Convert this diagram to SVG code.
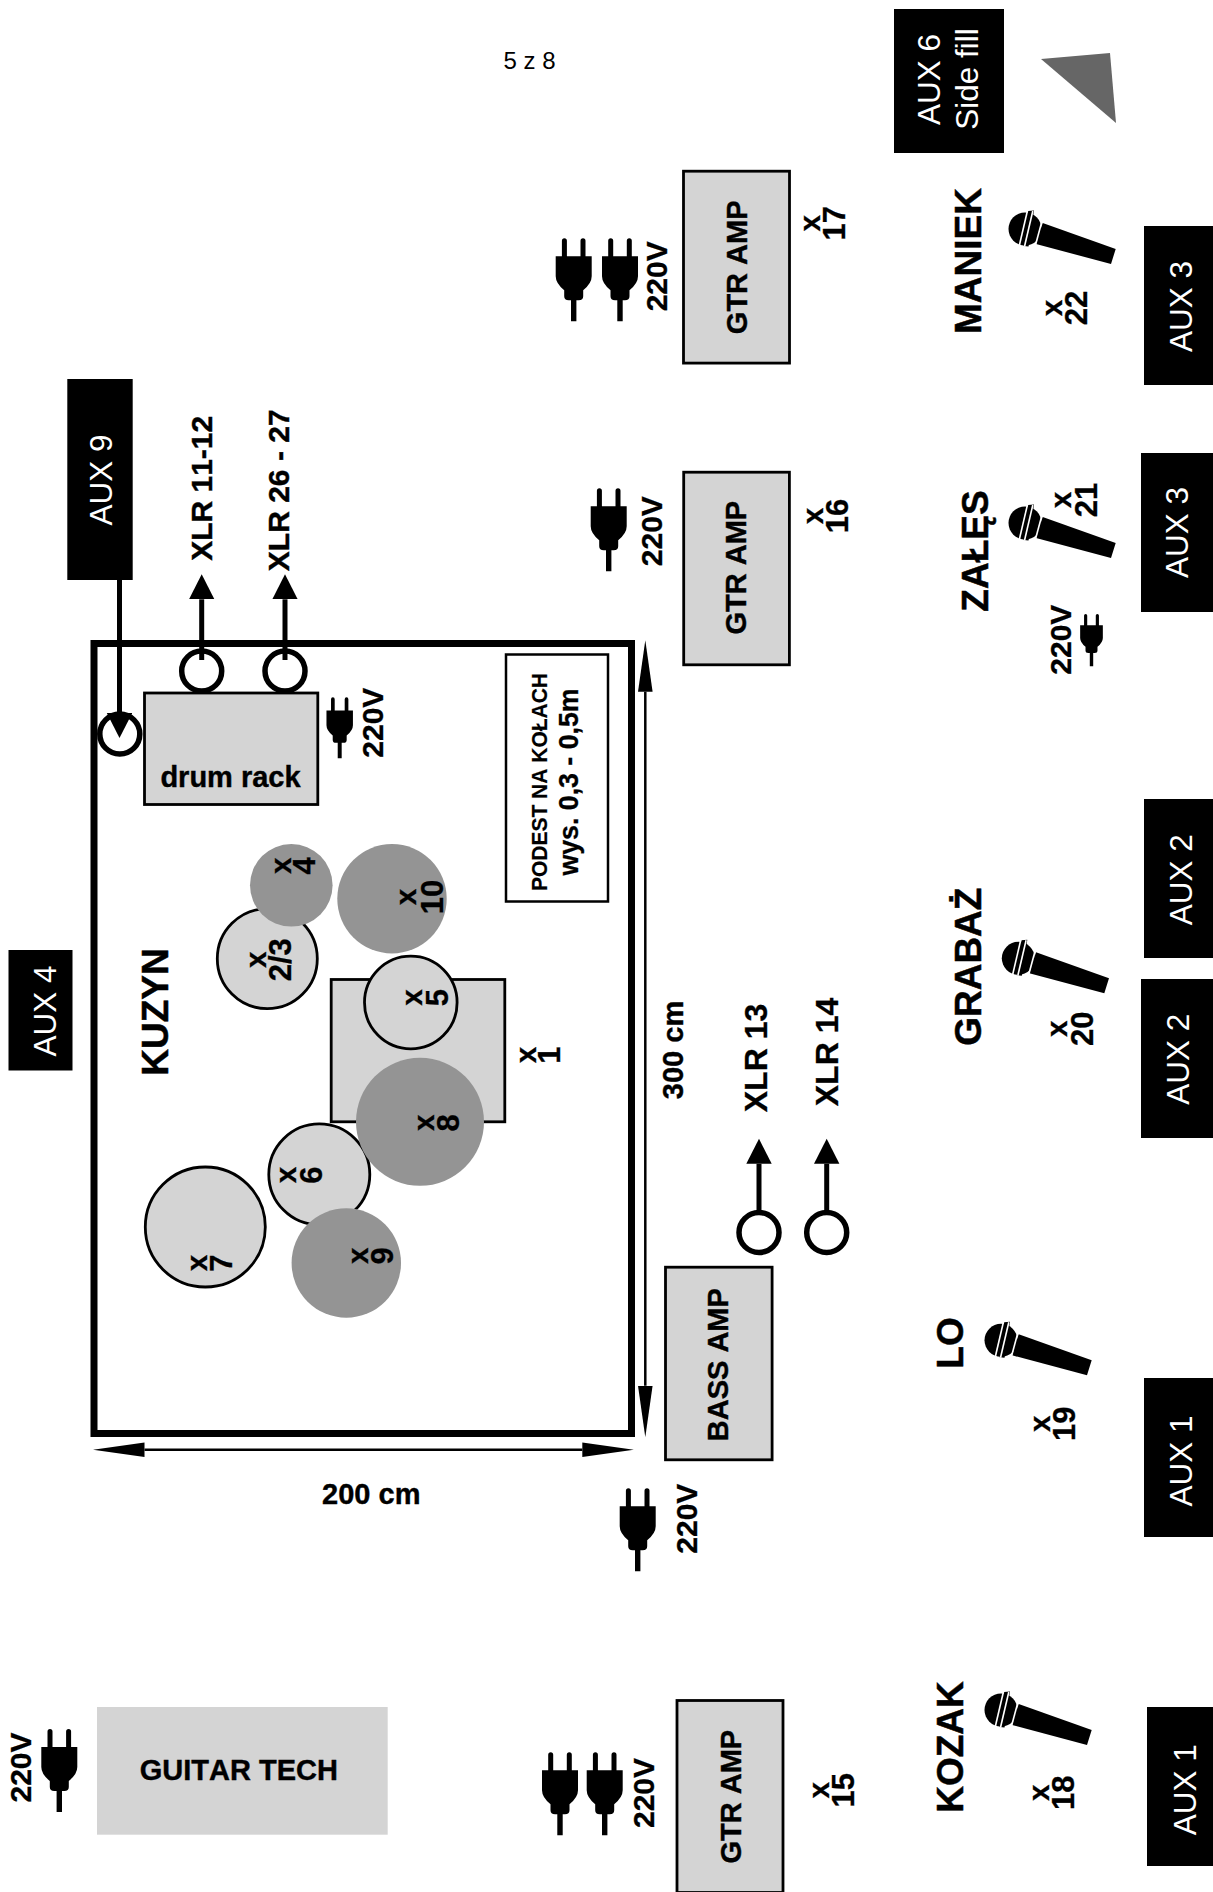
<svg xmlns="http://www.w3.org/2000/svg" xmlns:xlink="http://www.w3.org/1999/xlink" width="1213" height="1892" viewBox="0 0 1213 1892">
<style>
text{font-family:"Liberation Sans",Arial,sans-serif;text-anchor:middle;font-kerning:none}
.b{font-weight:700;fill:#000;font-size:29px;stroke:#000;stroke-width:.4}
.n{font-weight:700;fill:#000;font-size:37px;stroke:#000;stroke-width:.5}
.t{font-weight:700;fill:#000;font-size:31px;stroke:#000;stroke-width:.3}
.u{font-weight:700;fill:#000;font-size:29.5px;stroke:#000;stroke-width:.3}
.p{font-weight:700;fill:#000;font-size:30px;stroke:#000;stroke-width:.3}
.a{fill:#fff;font-size:31.5px}
.x{font-weight:700;fill:#000;font-size:32px;stroke:#000;stroke-width:.3}
.k{fill:#000}
.g{fill:#d4d4d4;stroke:#000;stroke-width:2.8}
.h{fill:#949494}
.c{fill:#fff;stroke:#000;stroke-width:5.5}
.l{stroke:#000;stroke-width:5;fill:none}
.d{stroke:#000;stroke-width:2.5;fill:none}
</style>
<defs>
<marker id="ah" markerUnits="userSpaceOnUse" markerWidth="26" markerHeight="26" refX="0" refY="12.7" orient="auto"><path d="M0,0L25,12.7L0,25.4Z" fill="#000"/></marker>
<marker id="dh" markerUnits="userSpaceOnUse" markerWidth="52" markerHeight="16" refX="0" refY="7.5" orient="auto-start-reverse"><path d="M0,0.2L51.5,7.5L0,14.8Z" fill="#000"/></marker>
<g id="plug"><path d="M-11.8,18V2.5a2.5,2.5 0 0 1 5,0V18H6.8V2.5a2.5,2.5 0 0 1 5,0V18H18V38Q18,45 9.5,52V58Q9.5,62 5,62H2.7V83H-2.7V62H-5Q-9.5,62 -9.5,58V52Q-18,45 -18,38V18Z" fill="#000"/></g>
<g id="mic">
<circle r="16.5" fill="#000"/>
<path d="M17.7,-6L90.7,20L86,35L11,15Z" fill="#000"/>
<path d="M9,-18.5L3.5,17.5L-1.5,17L3,-18Z" fill="#000"/>
<path d="M2.5,-18.5L-5.8,17" stroke="#fff" stroke-width="1.6" fill="none"/>
<path d="M7.8,-18L-.5,17.5" stroke="#fff" stroke-width="1.6" fill="none"/>
<path d="M17,-8L10.5,16" stroke="#fff" stroke-width="1.6" fill="none"/>
</g>
</defs>
<rect width="1213" height="1892" fill="#fff"/>

<g id="page-label"><text x="529.5" y="69.3" font-size="24">5 z 8</text></g>

<g id="stage"><rect x="94" y="643.5" width="537.5" height="790" fill="none" stroke="#000" stroke-width="7"/></g>

<g id="connectors">
<circle class="c" cx="201.7" cy="671" r="20"/>
<circle class="c" cx="285" cy="671" r="20"/>
<circle class="c" cx="119.8" cy="734" r="20"/>
<circle class="c" cx="759" cy="1232.5" r="20"/>
<circle class="c" cx="826.7" cy="1232.5" r="20"/>
<line class="l" x1="119.5" y1="580" x2="119.5" y2="713" marker-end="url(#ah)"/>
<line class="l" x1="201.7" y1="660" x2="201.7" y2="599.3" marker-end="url(#ah)"/>
<line class="l" x1="285" y1="660" x2="285" y2="599.3" marker-end="url(#ah)"/>
<line class="l" x1="759" y1="1212" x2="759" y2="1163.8" marker-end="url(#ah)"/>
<line class="l" x1="826.7" y1="1212" x2="826.7" y2="1163.8" marker-end="url(#ah)"/>
<line class="d" x1="645.3" y1="691.7" x2="645.3" y2="1385.7" marker-start="url(#dh)" marker-end="url(#dh)"/>
<line class="d" x1="144.5" y1="1449.7" x2="582.3" y2="1449.7" marker-start="url(#dh)" marker-end="url(#dh)"/>
</g>

<g id="drum-rack"><rect class="g" x="144.5" y="693" width="173.3" height="111.5"/><text class="b" x="230.5" y="786.7">drum rack</text></g>
<g id="riser"><rect class="d" x="506" y="654.5" width="102" height="247" fill="#fff"/>
<text class="b" style="font-size:22px;stroke-width:.2" textLength="218" lengthAdjust="spacingAndGlyphs" transform="translate(547.3,782) rotate(-90)">PODEST NA KOŁACH</text>
<text class="b" style="font-size:27px;stroke-width:.3" textLength="187" lengthAdjust="spacingAndGlyphs" transform="translate(578,782) rotate(-90)">wys. 0,3 - 0,5m</text></g>

<g id="drum-1"><rect class="g" x="331.2" y="979.5" width="173.6" height="142.3"/></g>
<g id="drum-23"><circle class="g" cx="267.3" cy="958.7" r="50"/></g>
<g id="drum-4"><circle class="h" cx="291.3" cy="885.3" r="41.3"/></g>
<g id="drum-10"><circle class="h" cx="392" cy="898.7" r="54.7"/></g>
<g id="drum-5"><circle class="g" cx="410.8" cy="1002.5" r="46.3"/></g>
<g id="drum-6"><circle class="g" cx="319.3" cy="1174.4" r="50.5"/></g>
<g id="drum-8"><circle class="h" cx="420" cy="1121.8" r="64"/></g>
<g id="drum-7"><circle class="g" cx="205.3" cy="1227" r="60"/></g>
<g id="drum-9"><circle class="h" cx="346.3" cy="1263" r="54.7"/></g>

<g id="tags">
<text class="u" y="-1" transform="translate(536.5,1055) rotate(-90)">x</text><text class="t" transform="translate(560,1055) rotate(-90)">1</text>
<text class="u" y="-1" transform="translate(266.7,959.8) rotate(-90)">x</text><text class="t" transform="translate(291,959.8) rotate(-90)">2/3</text>
<text class="u" y="-1" transform="translate(291.7,865.8) rotate(-90)">x</text><text class="t" transform="translate(315.3,865.8) rotate(-90)">4</text>
<text class="u" y="-1" transform="translate(423.3,997.5) rotate(-90)">x</text><text class="t" transform="translate(448,997.5) rotate(-90)">5</text>
<text class="u" y="-1" transform="translate(296.7,1175) rotate(-90)">x</text><text class="t" transform="translate(322.3,1175) rotate(-90)">6</text>
<text class="u" y="-1" transform="translate(208.3,1263) rotate(-90)">x</text><text class="t" transform="translate(231.7,1263) rotate(-90)">7</text>
<text class="u" y="-1" transform="translate(435,1122.8) rotate(-90)">x</text><text class="t" transform="translate(459.3,1122.8) rotate(-90)">8</text>
<text class="u" y="-1" transform="translate(369,1255.8) rotate(-90)">x</text><text class="t" transform="translate(393.3,1255.8) rotate(-90)">9</text>
<text class="u" y="-1" transform="translate(417.3,897) rotate(-90)">x</text><text class="t" transform="translate(442.7,897) rotate(-90)">10</text>
<text class="u" y="-1" transform="translate(830,1790.3) rotate(-90)">x</text><text class="t" transform="translate(854,1790.3) rotate(-90)">15</text>
<text class="u" y="-1" transform="translate(824,516) rotate(-90)">x</text><text class="t" transform="translate(848,516) rotate(-90)">16</text>
<text class="u" y="-1" transform="translate(821,223.3) rotate(-90)">x</text><text class="t" transform="translate(845,223.3) rotate(-90)">17</text>
<text class="u" y="-1" transform="translate(1050,1792.8) rotate(-90)">x</text><text class="t" transform="translate(1074.3,1792.8) rotate(-90)">18</text>
<text class="u" y="-1" transform="translate(1050.7,1423.7) rotate(-90)">x</text><text class="t" transform="translate(1075,1423.7) rotate(-90)">19</text>
<text class="u" y="-1" transform="translate(1068.3,1028.8) rotate(-90)">x</text><text class="t" transform="translate(1092.7,1028.8) rotate(-90)">20</text>
<text class="u" y="-1" transform="translate(1072,500) rotate(-90)">x</text><text class="t" transform="translate(1096.7,500) rotate(-90)">21</text>
<text class="u" y="-1" transform="translate(1063.3,308) rotate(-90)">x</text><text class="t" transform="translate(1087.3,308) rotate(-90)">22</text>
</g>

<g id="drummer-name"><text class="n" transform="translate(168.3,1012) rotate(-90)">KUZYN</text></g>
<g id="labels">
<text class="b" style="font-size:30px" transform="translate(211.7,488.3) rotate(-90)">XLR 11-12</text>
<text class="b" style="font-size:30px" transform="translate(289.3,490.3) rotate(-90)">XLR 26 - 27</text>
<text class="x" transform="translate(766.7,1058) rotate(-90)">XLR 13</text>
<text class="x" transform="translate(837.7,1052) rotate(-90)">XLR 14</text>
<text class="b" x="371.3" y="1504">200 cm</text>
<text class="b" transform="translate(682.7,1050) rotate(-90)">300 cm</text>
</g>

<g id="guitar-tech"><rect x="97" y="1707" width="290.7" height="127.7" fill="#d4d4d4"/><text class="b" x="238.8" y="1780">GUITAR TECH</text>
<use xlink:href="#plug" href="#plug" transform="translate(59.3,1729)"/>
<text class="p" transform="translate(30.7,1767.5) rotate(-90)">220V</text></g>

<g id="gtr-amp-15"><rect class="g" x="677" y="1700.5" width="106" height="192"/><text class="b" transform="translate(741,1796.7) rotate(-90)">GTR AMP</text>
<use xlink:href="#plug" href="#plug" transform="translate(560,1752.3)"/><use xlink:href="#plug" href="#plug" transform="translate(604.7,1752.3)"/>
<text class="p" transform="translate(654.3,1793) rotate(-90)">220V</text></g>

<g id="gtr-amp-16"><rect class="g" x="683.7" y="472.2" width="105.7" height="192.6"/><text class="b" transform="translate(746,567.7) rotate(-90)">GTR AMP</text>
<use xlink:href="#plug" href="#plug" transform="translate(608.7,488.3)"/>
<text class="p" transform="translate(661.5,531.2) rotate(-90)">220V</text></g>

<g id="gtr-amp-17"><rect class="g" x="683.5" y="171.2" width="106" height="191.9"/><text class="b" transform="translate(746.7,267.3) rotate(-90)">GTR AMP</text>
<use xlink:href="#plug" href="#plug" transform="translate(573.7,238.3)"/><use xlink:href="#plug" href="#plug" transform="translate(620,238.3)"/>
<text class="p" transform="translate(667.3,276.3) rotate(-90)">220V</text></g>

<g id="bass-amp"><rect class="g" x="665.5" y="1267.2" width="106.6" height="192.6"/><text class="b" transform="translate(727.7,1364.7) rotate(-90)">BASS AMP</text>
<use xlink:href="#plug" href="#plug" transform="translate(637.7,1488.3)"/>
<text class="p" transform="translate(696.7,1518.7) rotate(-90)">220V</text></g>

<g id="rack-power"><use xlink:href="#plug" href="#plug" transform="translate(339.7,697.3) scale(.735)"/>
<text class="p" transform="translate(383.3,722.7) rotate(-90)">220V</text></g>

<g id="maniek"><use xlink:href="#mic" href="#mic" x="1025" y="229"/><text class="n" transform="translate(980.7,261) rotate(-90)">MANIEK</text></g>
<g id="zales"><use xlink:href="#mic" href="#mic" x="1025" y="523"/><text class="n" transform="translate(987.6,551) rotate(-90)">ZAŁĘS</text>
<use xlink:href="#plug" href="#plug" transform="translate(1091.5,614) scale(.63)"/>
<text class="p" transform="translate(1071,639.7) rotate(-90)">220V</text></g>
<g id="grabaz"><use xlink:href="#mic" href="#mic" x="1018.3" y="958.3"/><text class="n" transform="translate(981,966.7) rotate(-90)">GRABAŻ</text></g>
<g id="lo"><use xlink:href="#mic" href="#mic" x="1001" y="1340.3"/><text class="n" transform="translate(962.7,1343) rotate(-90)">LO</text></g>
<g id="kozak"><use xlink:href="#mic" href="#mic" x="1001" y="1710"/><text class="n" transform="translate(962.7,1747) rotate(-90)">KOZAK</text></g>

<g id="side-fill"><path d="M1041,59L1110,53L1116,123Z" fill="#666"/></g>
<g id="aux-6"><rect class="k" x="894" y="9" width="110" height="144"/><text class="a" transform="translate(940,79.5) rotate(-90)">AUX 6</text><text class="a" transform="translate(978,79) rotate(-90)">Side fill</text></g>
<g id="aux-3a"><rect class="k" x="1144" y="226" width="69" height="159"/><text class="a" transform="translate(1191.7,306.5) rotate(-90)">AUX 3</text></g>
<g id="aux-3b"><rect class="k" x="1141" y="453" width="72" height="159"/><text class="a" transform="translate(1188,532.5) rotate(-90)">AUX 3</text></g>
<g id="aux-2a"><rect class="k" x="1144" y="799" width="69" height="159"/><text class="a" transform="translate(1192.3,879.7) rotate(-90)">AUX 2</text></g>
<g id="aux-2b"><rect class="k" x="1141" y="979" width="72" height="159"/><text class="a" transform="translate(1189,1059.3) rotate(-90)">AUX 2</text></g>
<g id="aux-1a"><rect class="k" x="1144" y="1378" width="69" height="159"/><text class="a" transform="translate(1192.3,1461) rotate(-90)">AUX 1</text></g>
<g id="aux-1b"><rect class="k" x="1147" y="1707" width="66" height="159"/><text class="a" transform="translate(1195.7,1789.7) rotate(-90)">AUX 1</text></g>
<g id="aux-4"><rect class="k" x="8.5" y="950" width="64" height="120.5"/><text class="a" transform="translate(56,1011) rotate(-90)">AUX 4</text></g>
<g id="aux-9"><rect class="k" x="67.3" y="379" width="65.4" height="201"/><text class="a" transform="translate(112.3,480) rotate(-90)">AUX 9</text></g>
</svg>
